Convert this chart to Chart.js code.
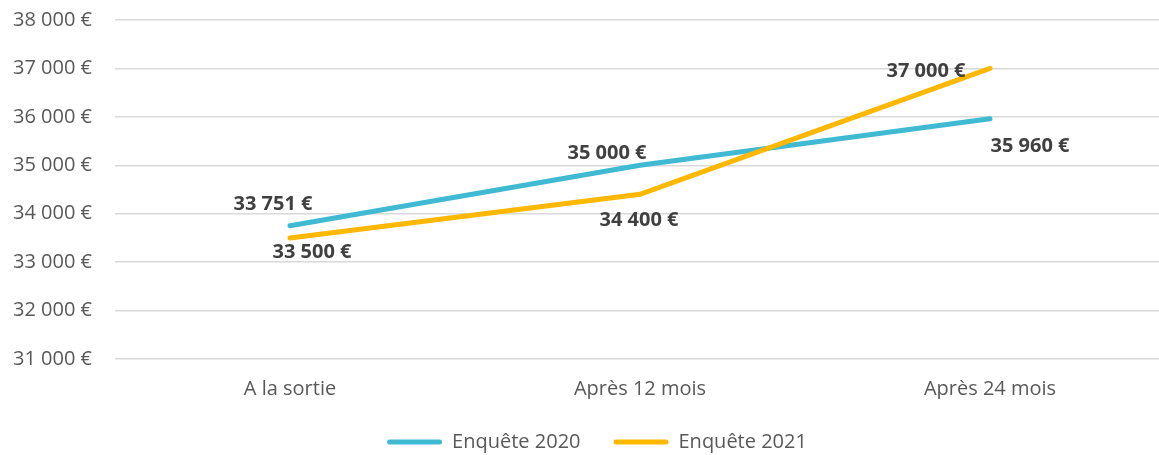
<!DOCTYPE html>
<html>
<head>
<meta charset="utf-8">
<script src="https://cdn.jsdelivr.net/npm/chart.js@4"></script>
<style>
  html, body { margin: 0; padding: 0; background: #fff; overflow: hidden; }
  #wrap { width: 1166px; height: 455px; position: relative; }
</style>
</head>
<body>
<div id="wrap"><canvas id="salaryChart"></canvas></div>
<script>
const categories = ["A la sortie", "Après 12 mois", "Après 24 mois"];
const series2020 = [33751, 35000, 35960];
const series2021 = [33500, 34400, 37000];
const seriesNames = ["Enquête 2020", "Enquête 2021"];
const yTicks = [31000, 32000, 33000, 34000, 35000, 36000, 37000, 38000];

// where each value label sits relative to its point
const labelOffsets = [
  [[-17, -21], [-33, -12], [40, 28]],
  [[22, 14], [-1, 26], [-64, 3]]
];

const FONT = "'Open Sans', 'Noto Sans', sans-serif";

function euro(v) {
  return String(v).replace(/\B(?=(\d{3})+(?!\d))/g, " ") + " €";
}

const valueLabels = {
  id: "valueLabels",
  afterLayout(chart) {
    // legend sits a bit right of the canvas centre in the original
    chart.legend.left += 12;
    chart.legend.right += 12;
  },
  afterDatasetsDraw(chart) {
    const c = chart.ctx;
    c.save();
    c.font = "bold 20px " + FONT;
    c.fillStyle = "#404040";
    c.textAlign = "center";
    c.textBaseline = "middle";
    chart.data.datasets.forEach(function (ds, i) {
      chart.getDatasetMeta(i).data.forEach(function (pt, j) {
        const off = labelOffsets[i][j];
        c.fillText(euro(ds.data[j]), pt.x + off[0], pt.y + off[1]);
      });
    });
    c.restore();
  }
};

document.addEventListener("DOMContentLoaded", function () {
  const ctx = document.getElementById("salaryChart");

  new Chart(ctx, {
    type: "line",
    data: {
      labels: categories,
      datasets: [
        {
          label: seriesNames[0],
          data: series2020,
          borderColor: "#40BAD3",
          backgroundColor: "#40BAD3",
          borderWidth: 5,
          borderCapStyle: "round",
          pointRadius: 0,
          tension: 0,
          order: 1
        },
        {
          label: seriesNames[1],
          data: series2021,
          borderColor: "#FFB800",
          backgroundColor: "#FFB800",
          borderWidth: 5,
          borderCapStyle: "round",
          pointRadius: 0,
          tension: 0,
          order: 0
        }
      ]
    },
    options: {
      responsive: true,
      maintainAspectRatio: false,
      animation: false,
      layout: { padding: { left: 5, right: 1, top: 20, bottom: 0 } },
      scales: {
        x: {
          offset: true,
          afterFit: function (axis) { axis.height = 40; },
          grid: { display: false, drawTicks: false },
          border: { display: false },
          ticks: { color: "#595959", font: { family: FONT, size: 20 }, padding: 18 }
        },
        y: {
          min: 31000,
          max: 38000,
          afterBuildTicks: function (axis) {
            axis.ticks = yTicks.map(function (v) { return { value: v }; });
          },
          afterFit: function (axis) { axis.width = 110; },
          grid: {
            color: "#D9D9D9",
            lineWidth: 1.5,
            drawTicks: true,
            tickLength: 23,
            tickColor: "rgba(0,0,0,0)"
          },
          border: { display: false },
          ticks: {
            color: "#595959",
            font: { family: FONT, size: 20 },
            padding: 0,
            callback: function (v) { return euro(v); }
          }
        }
      },
      plugins: {
        tooltip: { enabled: false },
        legend: {
          position: "bottom",
          maxHeight: 56,
          labels: {
            color: "#595959",
            font: { family: FONT, size: 20 },
            boxWidth: 55,
            boxHeight: 5,
            padding: 33,
            useBorderRadius: true,
            borderRadius: 2.5,
            generateLabels: function (chart) {
              const items = Chart.defaults.plugins.legend.labels.generateLabels(chart);
              items.forEach(function (it) { it.lineWidth = 0; });
              items.sort(function (a, b) { return a.datasetIndex - b.datasetIndex; });
              return items;
            }
          }
        }
      }
    },
    plugins: [valueLabels]
  });
});
</script>
</body>
</html>
